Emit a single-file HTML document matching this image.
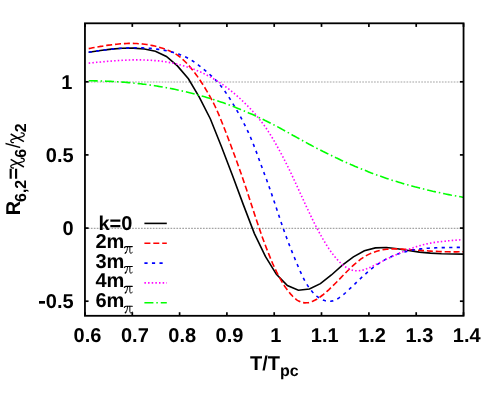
<!DOCTYPE html>
<html><head><meta charset="utf-8"><title>chart</title>
<style>
html,body{margin:0;padding:0;background:#fff;}
body{width:498px;height:399px;overflow:hidden;}
svg{display:block;will-change:transform;opacity:0.999;}
text{font-family:"Liberation Sans",sans-serif;font-weight:bold;fill:#000;text-rendering:geometricPrecision;}
.sym{font-family:"Liberation Serif",serif;font-weight:normal;}
.thin{font-weight:normal;}
</style></head><body>
<svg width="498" height="399" viewBox="0 0 498 399">
<rect width="498" height="399" fill="#fff"/>

<line x1="84.95" x2="463.5" y1="228.45" y2="228.45" stroke="#a4a4a4" stroke-width="1.2" stroke-dasharray="1.7 1.25"/>
<line x1="84.95" x2="463.5" y1="82.0" y2="82.0" stroke="#a4a4a4" stroke-width="1.2" stroke-dasharray="1.7 1.25"/>
<path d="M88.7,52.3 L100.4,50.5 L111.4,49.1 L122.4,48.2 L133.4,48.1 L144.4,49.0 L155.4,51.3 L166.4,56.4 L177.4,65.9 L188.4,78.8 L199.4,97.4 L210.4,119.0 L221.4,146.5 L232.4,175.2 L243.4,204.9 L254.4,233.6 L265.4,256.4 L276.4,274.3 L287.4,285.6 L298.4,290.3 L309.4,289.0 L320.4,283.6 L331.4,275.0 L342.4,265.1 L353.4,256.8 L364.4,250.8 L375.4,247.9 L386.4,247.5 L397.4,248.7 L408.4,250.5 L419.4,252.1 L430.4,253.1 L441.4,253.7 L452.4,254.0 L463.5,254.1" fill="none" stroke="#000000" stroke-width="1.6"/>
<path d="M88.7,48.6 L90.7,48.2 L92.7,47.8 L94.7,47.5 L96.7,47.1 L98.7,46.7 L100.7,46.4 L102.7,46.1 L104.7,45.7 L106.7,45.4 L108.7,45.1 L110.7,44.9 L112.7,44.6 L114.7,44.4 L116.7,44.2 L118.7,44.0 L120.7,43.8 L122.7,43.7 L124.7,43.6 L126.7,43.5 L128.7,43.4 L130.7,43.4 L132.7,43.4 L134.7,43.5 L136.7,43.5 L138.7,43.7 L140.7,43.8 L142.7,44.0 L144.7,44.2 L146.7,44.5 L148.7,44.8 L150.7,45.2 L152.7,45.6 L154.7,46.0 L156.7,46.5 L158.7,47.1 L160.7,47.7 L162.7,48.3 L164.7,49.0 L166.7,49.8 L168.7,50.6 L170.7,51.4 L172.7,52.4 L174.7,53.4 L176.7,54.6 L178.7,56.0 L180.7,57.5 L182.7,59.3 L184.7,61.2 L186.7,63.2 L188.7,65.4 L190.7,67.7 L192.7,70.2 L194.7,72.8 L196.7,75.4 L198.7,78.3 L200.7,81.2 L202.7,84.3 L204.7,87.5 L206.7,90.8 L208.7,94.2 L210.7,97.8 L212.7,101.6 L214.7,105.5 L216.7,109.8 L218.7,114.4 L220.7,119.2 L222.7,124.2 L224.7,129.3 L226.7,134.5 L228.7,139.7 L230.7,145.0 L232.7,150.4 L234.7,155.8 L236.7,161.2 L238.7,166.8 L240.7,172.4 L242.7,178.2 L244.7,184.1 L246.7,190.1 L248.7,196.2 L250.7,202.4 L252.7,208.6 L254.7,214.7 L256.7,220.8 L258.7,226.7 L260.7,232.6 L262.7,238.2 L264.7,243.6 L266.7,248.9 L268.7,253.9 L270.7,258.9 L272.7,263.6 L274.7,268.0 L276.7,272.2 L278.7,276.0 L280.7,279.7 L282.7,283.1 L284.7,286.2 L286.7,289.1 L288.7,291.7 L290.7,294.1 L292.7,296.3 L294.7,298.2 L296.7,299.8 L298.7,301.1 L300.7,302.0 L302.7,302.6 L304.7,302.9 L306.7,302.8 L308.7,302.6 L310.7,302.0 L312.7,301.3 L314.7,300.3 L316.7,299.2 L318.7,297.9 L320.7,296.5 L322.7,295.0 L324.7,293.4 L326.7,291.6 L328.7,289.8 L330.7,287.9 L332.7,286.0 L334.7,284.0 L336.7,282.0 L338.7,279.9 L340.7,277.9 L342.7,275.8 L344.7,273.8 L346.7,271.7 L348.7,269.8 L350.7,267.8 L352.7,265.9 L354.7,264.1 L356.7,262.4 L358.7,260.8 L360.7,259.2 L362.7,257.8 L364.7,256.6 L366.7,255.4 L368.7,254.4 L370.7,253.4 L372.7,252.6 L374.7,251.9 L376.7,251.2 L378.7,250.7 L380.7,250.2 L382.7,249.8 L384.7,249.5 L386.7,249.3 L388.7,249.1 L390.7,248.9 L392.7,248.9 L394.7,248.8 L396.7,248.9 L398.7,248.9 L400.7,249.0 L402.7,249.1 L404.7,249.2 L406.7,249.4 L408.7,249.5 L410.7,249.7 L412.7,249.8 L414.7,250.0 L416.7,250.1 L418.7,250.3 L420.7,250.4 L422.7,250.6 L424.7,250.7 L426.7,250.8 L428.7,251.0 L430.7,251.1 L432.7,251.2 L434.7,251.3 L436.7,251.4 L438.7,251.5 L440.7,251.6 L442.7,251.7 L444.7,251.7 L446.7,251.8 L448.7,251.8 L450.7,251.9 L452.7,251.9 L454.7,251.9 L456.7,251.9 L458.7,251.8 L460.7,251.8 L462.7,251.7 L463.5,251.7" fill="none" stroke="#ff0000" stroke-width="1.6" stroke-dasharray="6 2.9"/>
<path d="M88.7,52.3 L90.7,52.0 L92.7,51.7 L94.7,51.4 L96.7,51.1 L98.7,50.8 L100.7,50.5 L102.7,50.2 L104.7,50.0 L106.7,49.7 L108.7,49.5 L110.7,49.3 L112.7,49.0 L114.7,48.8 L116.7,48.7 L118.7,48.5 L120.7,48.3 L122.7,48.2 L124.7,48.1 L126.7,48.0 L128.7,47.9 L130.7,47.8 L132.7,47.8 L134.7,47.8 L136.7,47.8 L138.7,47.8 L140.7,47.8 L142.7,47.9 L144.7,48.0 L146.7,48.1 L148.7,48.2 L150.7,48.4 L152.7,48.6 L154.7,48.8 L156.7,49.1 L158.7,49.4 L160.7,49.7 L162.7,50.0 L164.7,50.4 L166.7,50.8 L168.7,51.3 L170.7,51.8 L172.7,52.3 L174.7,52.8 L176.7,53.5 L178.7,54.1 L180.7,54.9 L182.7,55.7 L184.7,56.6 L186.7,57.5 L188.7,58.6 L190.7,59.7 L192.7,61.0 L194.7,62.3 L196.7,63.8 L198.7,65.3 L200.7,66.8 L202.7,68.4 L204.7,70.1 L206.7,71.8 L208.7,73.5 L210.7,75.3 L212.7,77.1 L214.7,79.0 L216.7,81.1 L218.7,83.3 L220.7,85.7 L222.7,88.3 L224.7,91.0 L226.7,93.9 L228.7,96.9 L230.7,100.1 L232.7,103.3 L234.7,106.7 L236.7,110.1 L238.7,113.6 L240.7,117.2 L242.7,121.0 L244.7,124.9 L246.7,128.9 L248.7,133.2 L250.7,137.7 L252.7,142.5 L254.7,147.6 L256.7,152.9 L258.7,158.4 L260.7,163.9 L262.7,169.4 L264.7,174.7 L266.7,180.0 L268.7,185.6 L270.7,191.3 L272.7,197.2 L274.7,203.1 L276.7,209.1 L278.7,215.1 L280.7,221.0 L282.7,226.9 L284.7,232.6 L286.7,238.1 L288.7,243.4 L290.7,248.5 L292.7,253.5 L294.7,258.3 L296.7,263.1 L298.7,267.9 L300.7,272.4 L302.7,276.7 L304.7,280.6 L306.7,284.1 L308.7,287.2 L310.7,289.9 L312.7,292.3 L314.7,294.4 L316.7,296.1 L318.7,297.6 L320.7,298.9 L322.7,299.9 L324.7,300.6 L326.7,301.1 L328.7,301.3 L330.7,301.3 L332.7,300.9 L334.7,300.2 L336.7,299.3 L338.7,298.1 L340.7,296.7 L342.7,295.2 L344.7,293.5 L346.7,291.7 L348.7,289.8 L350.7,287.9 L352.7,286.0 L354.7,284.1 L356.7,282.1 L358.7,280.2 L360.7,278.3 L362.7,276.5 L364.7,274.7 L366.7,272.9 L368.7,271.2 L370.7,269.5 L372.7,267.9 L374.7,266.4 L376.7,264.9 L378.7,263.6 L380.7,262.3 L382.7,261.1 L384.7,259.9 L386.7,258.9 L388.7,257.9 L390.7,256.9 L392.7,256.0 L394.7,255.2 L396.7,254.5 L398.7,253.7 L400.7,253.1 L402.7,252.5 L404.7,251.9 L406.7,251.4 L408.7,250.9 L410.7,250.5 L412.7,250.1 L414.7,249.8 L416.7,249.5 L418.7,249.2 L420.7,248.9 L422.7,248.7 L424.7,248.5 L426.7,248.3 L428.7,248.2 L430.7,248.1 L432.7,248.0 L434.7,247.9 L436.7,247.8 L438.7,247.7 L440.7,247.7 L442.7,247.6 L444.7,247.6 L446.7,247.6 L448.7,247.5 L450.7,247.5 L452.7,247.5 L454.7,247.4 L456.7,247.4 L458.7,247.4 L460.7,247.3 L462.7,247.2 L463.5,247.2" fill="none" stroke="#0000ff" stroke-width="1.6" stroke-dasharray="3.2 4.331"/>
<path d="M88.7,63.1 L90.7,62.9 L92.7,62.7 L94.7,62.5 L96.7,62.3 L98.7,62.2 L100.7,62.0 L102.7,61.8 L104.7,61.6 L106.7,61.4 L108.7,61.3 L110.7,61.1 L112.7,60.9 L114.7,60.8 L116.7,60.7 L118.7,60.5 L120.7,60.4 L122.7,60.3 L124.7,60.2 L126.7,60.1 L128.7,60.0 L130.7,60.0 L132.7,59.9 L134.7,59.9 L136.7,59.9 L138.7,59.9 L140.7,59.9 L142.7,59.9 L144.7,60.0 L146.7,60.1 L148.7,60.2 L150.7,60.3 L152.7,60.4 L154.7,60.6 L156.7,60.7 L158.7,60.9 L160.7,61.2 L162.7,61.4 L164.7,61.7 L166.7,62.0 L168.7,62.4 L170.7,62.7 L172.7,63.1 L174.7,63.5 L176.7,64.0 L178.7,64.5 L180.7,65.0 L182.7,65.6 L184.7,66.1 L186.7,66.8 L188.7,67.4 L190.7,68.1 L192.7,68.8 L194.7,69.6 L196.7,70.4 L198.7,71.2 L200.7,72.1 L202.7,73.0 L204.7,74.0 L206.7,75.0 L208.7,76.1 L210.7,77.1 L212.7,78.3 L214.7,79.5 L216.7,80.7 L218.7,82.0 L220.7,83.3 L222.7,84.6 L224.7,86.1 L226.7,87.5 L228.7,89.0 L230.7,90.6 L232.7,92.2 L234.7,93.9 L236.7,95.6 L238.7,97.4 L240.7,99.2 L242.7,101.1 L244.7,103.0 L246.7,105.0 L248.7,107.0 L250.7,109.1 L252.7,111.3 L254.7,113.5 L256.7,115.9 L258.7,118.3 L260.7,120.8 L262.7,123.4 L264.7,126.1 L266.7,129.0 L268.7,132.1 L270.7,135.2 L272.7,138.5 L274.7,141.9 L276.7,145.5 L278.7,149.1 L280.7,152.8 L282.7,156.5 L284.7,160.4 L286.7,164.4 L288.7,168.4 L290.7,172.6 L292.7,176.8 L294.7,181.1 L296.7,185.4 L298.7,189.8 L300.7,194.2 L302.7,198.6 L304.7,202.9 L306.7,207.3 L308.7,211.5 L310.7,215.7 L312.7,219.8 L314.7,223.8 L316.7,227.7 L318.7,231.5 L320.7,235.1 L322.7,238.7 L324.7,242.0 L326.7,245.3 L328.7,248.4 L330.7,251.3 L332.7,254.0 L334.7,256.6 L336.7,259.0 L338.7,261.1 L340.7,263.1 L342.7,264.9 L344.7,266.4 L346.7,267.7 L348.7,268.8 L350.7,269.6 L352.7,270.3 L354.7,270.7 L356.7,270.8 L358.7,270.8 L360.7,270.5 L362.7,270.1 L364.7,269.5 L366.7,268.8 L368.7,268.0 L370.7,267.1 L372.7,266.2 L374.7,265.2 L376.7,264.1 L378.7,263.1 L380.7,262.1 L382.7,261.1 L384.7,260.1 L386.7,259.1 L388.7,258.2 L390.7,257.2 L392.7,256.2 L394.7,255.3 L396.7,254.4 L398.7,253.5 L400.7,252.6 L402.7,251.8 L404.7,250.9 L406.7,250.1 L408.7,249.4 L410.7,248.6 L412.7,247.9 L414.7,247.2 L416.7,246.6 L418.7,246.0 L420.7,245.4 L422.7,244.8 L424.7,244.4 L426.7,243.9 L428.7,243.5 L430.7,243.1 L432.7,242.8 L434.7,242.4 L436.7,242.1 L438.7,241.9 L440.7,241.6 L442.7,241.4 L444.7,241.2 L446.7,241.0 L448.7,240.8 L450.7,240.6 L452.7,240.4 L454.7,240.3 L456.7,240.1 L458.7,240.0 L460.7,239.8 L462.2,239.7" fill="none" stroke="#ff00ff" stroke-width="1.6" stroke-dasharray="1.5 2.15"/>
<path d="M88.7,80.8 L90.7,80.8 L92.7,80.8 L94.7,80.9 L96.7,80.9 L98.7,80.9 L100.7,81.0 L102.7,81.0 L104.7,81.1 L106.7,81.2 L108.7,81.3 L110.7,81.4 L112.7,81.5 L114.7,81.6 L116.7,81.7 L118.7,81.8 L120.7,82.0 L122.7,82.1 L124.7,82.3 L126.7,82.4 L128.7,82.6 L130.7,82.8 L132.7,83.0 L134.7,83.2 L136.7,83.4 L138.7,83.6 L140.7,83.8 L142.7,84.1 L144.7,84.3 L146.7,84.6 L148.7,84.9 L150.7,85.1 L152.7,85.4 L154.7,85.7 L156.7,86.0 L158.7,86.4 L160.7,86.7 L162.7,87.0 L164.7,87.4 L166.7,87.8 L168.7,88.1 L170.7,88.5 L172.7,88.9 L174.7,89.3 L176.7,89.7 L178.7,90.2 L180.7,90.6 L182.7,91.1 L184.7,91.5 L186.7,92.0 L188.7,92.5 L190.7,93.0 L192.7,93.5 L194.7,94.0 L196.7,94.6 L198.7,95.1 L200.7,95.7 L202.7,96.2 L204.7,96.8 L206.7,97.4 L208.7,98.0 L210.7,98.6 L212.7,99.3 L214.7,99.9 L216.7,100.6 L218.7,101.3 L220.7,101.9 L222.7,102.6 L224.7,103.3 L226.7,104.1 L228.7,104.8 L230.7,105.6 L232.7,106.3 L234.7,107.1 L236.7,107.9 L238.7,108.7 L240.7,109.5 L242.7,110.3 L244.7,111.2 L246.7,112.0 L248.7,112.9 L250.7,113.7 L252.7,114.6 L254.7,115.5 L256.7,116.5 L258.7,117.4 L260.7,118.3 L262.7,119.3 L264.7,120.3 L266.7,121.2 L268.7,122.2 L270.7,123.3 L272.7,124.3 L274.7,125.3 L276.7,126.4 L278.7,127.4 L280.7,128.5 L282.7,129.6 L284.7,130.7 L286.7,131.8 L288.7,132.9 L290.7,134.0 L292.7,135.2 L294.7,136.3 L296.7,137.4 L298.7,138.5 L300.7,139.6 L302.7,140.7 L304.7,141.8 L306.7,142.9 L308.7,144.0 L310.7,145.0 L312.7,146.1 L314.7,147.1 L316.7,148.2 L318.7,149.2 L320.7,150.2 L322.7,151.3 L324.7,152.3 L326.7,153.3 L328.7,154.2 L330.7,155.2 L332.7,156.2 L334.7,157.1 L336.7,158.1 L338.7,159.0 L340.7,160.0 L342.7,160.9 L344.7,161.8 L346.7,162.7 L348.7,163.6 L350.7,164.5 L352.7,165.3 L354.7,166.2 L356.7,167.0 L358.7,167.9 L360.7,168.7 L362.7,169.5 L364.7,170.3 L366.7,171.1 L368.7,171.9 L370.7,172.7 L372.7,173.4 L374.7,174.2 L376.7,174.9 L378.7,175.6 L380.7,176.3 L382.7,177.0 L384.7,177.7 L386.7,178.4 L388.7,179.1 L390.7,179.7 L392.7,180.4 L394.7,181.0 L396.7,181.6 L398.7,182.2 L400.7,182.8 L402.7,183.4 L404.7,184.0 L406.7,184.6 L408.7,185.1 L410.7,185.7 L412.7,186.2 L414.7,186.8 L416.7,187.3 L418.7,187.8 L420.7,188.3 L422.7,188.8 L424.7,189.3 L426.7,189.8 L428.7,190.3 L430.7,190.7 L432.7,191.2 L434.7,191.6 L436.7,192.1 L438.7,192.5 L440.7,192.9 L442.7,193.3 L444.7,193.8 L446.7,194.2 L448.7,194.6 L450.7,195.0 L452.7,195.3 L454.7,195.7 L456.7,196.1 L458.7,196.4 L460.7,196.8 L462.7,197.2 L463.5,197.3" fill="none" stroke="#00ff00" stroke-width="1.6" stroke-dasharray="9 2.92 1.5 2.92"/>
<line x1="85.0" x2="85.0" y1="315.8" y2="312.2" stroke="#000" stroke-width="1.7"/>
<line x1="85.0" x2="85.0" y1="23.3" y2="26.900000000000002" stroke="#000" stroke-width="1.7"/>
<line x1="132.3" x2="132.3" y1="315.8" y2="312.2" stroke="#000" stroke-width="1.7"/>
<line x1="132.3" x2="132.3" y1="23.3" y2="26.900000000000002" stroke="#000" stroke-width="1.7"/>
<line x1="179.6" x2="179.6" y1="315.8" y2="312.2" stroke="#000" stroke-width="1.7"/>
<line x1="179.6" x2="179.6" y1="23.3" y2="26.900000000000002" stroke="#000" stroke-width="1.7"/>
<line x1="226.9" x2="226.9" y1="315.8" y2="312.2" stroke="#000" stroke-width="1.7"/>
<line x1="226.9" x2="226.9" y1="23.3" y2="26.900000000000002" stroke="#000" stroke-width="1.7"/>
<line x1="274.2" x2="274.2" y1="315.8" y2="312.2" stroke="#000" stroke-width="1.7"/>
<line x1="274.2" x2="274.2" y1="23.3" y2="26.900000000000002" stroke="#000" stroke-width="1.7"/>
<line x1="321.5" x2="321.5" y1="315.8" y2="312.2" stroke="#000" stroke-width="1.7"/>
<line x1="321.5" x2="321.5" y1="23.3" y2="26.900000000000002" stroke="#000" stroke-width="1.7"/>
<line x1="368.9" x2="368.9" y1="315.8" y2="312.2" stroke="#000" stroke-width="1.7"/>
<line x1="368.9" x2="368.9" y1="23.3" y2="26.900000000000002" stroke="#000" stroke-width="1.7"/>
<line x1="416.2" x2="416.2" y1="315.8" y2="312.2" stroke="#000" stroke-width="1.7"/>
<line x1="416.2" x2="416.2" y1="23.3" y2="26.900000000000002" stroke="#000" stroke-width="1.7"/>
<line x1="463.5" x2="463.5" y1="315.8" y2="312.2" stroke="#000" stroke-width="1.7"/>
<line x1="463.5" x2="463.5" y1="23.3" y2="26.900000000000002" stroke="#000" stroke-width="1.7"/>
<line x1="84.95" x2="88.55" y1="301.2" y2="301.2" stroke="#000" stroke-width="1.7"/>
<line x1="463.5" x2="459.9" y1="301.2" y2="301.2" stroke="#000" stroke-width="1.7"/>
<line x1="84.95" x2="88.55" y1="228.1" y2="228.1" stroke="#000" stroke-width="1.7"/>
<line x1="463.5" x2="459.9" y1="228.1" y2="228.1" stroke="#000" stroke-width="1.7"/>
<line x1="84.95" x2="88.55" y1="154.9" y2="154.9" stroke="#000" stroke-width="1.7"/>
<line x1="463.5" x2="459.9" y1="154.9" y2="154.9" stroke="#000" stroke-width="1.7"/>
<line x1="84.95" x2="88.55" y1="81.8" y2="81.8" stroke="#000" stroke-width="1.7"/>
<line x1="463.5" x2="459.9" y1="81.8" y2="81.8" stroke="#000" stroke-width="1.7"/>
<rect x="84.95" y="23.3" width="378.6" height="292.5" fill="none" stroke="#000" stroke-width="1.8"/>
<text x="87.5" y="341.5" font-size="20" text-anchor="middle">0.6</text>
<text x="134.9" y="341.5" font-size="20" text-anchor="middle">0.7</text>
<text x="182.2" y="341.5" font-size="20" text-anchor="middle">0.8</text>
<text x="229.5" y="341.5" font-size="20" text-anchor="middle">0.9</text>
<text x="275.8" y="341.5" font-size="20" text-anchor="middle">1</text>
<text x="324.7" y="341.5" font-size="20" text-anchor="middle">1.1</text>
<text x="372.1" y="341.5" font-size="20" text-anchor="middle">1.2</text>
<text x="419.4" y="341.5" font-size="20" text-anchor="middle">1.3</text>
<text x="466.7" y="341.5" font-size="20" text-anchor="middle">1.4</text>
<text x="73.6" y="307.9" font-size="20" text-anchor="end">0.5</text>
<rect x="39.0" y="301.0" width="6.0" height="2.7" fill="#000"/>
<text x="73.6" y="234.8" font-size="20" text-anchor="end">0</text>
<text x="73.6" y="161.6" font-size="20" text-anchor="end">0.5</text>
<text x="72.39999999999999" y="88.5" font-size="20" text-anchor="end">1</text>
<text x="250" y="370" font-size="20">T/T<tspan dy="5.8" font-size="16.0">pc</tspan></text>
<g transform="translate(19.8,215.3) rotate(-90)">
<text x="0.0" y="0" font-size="20">R</text>
<text x="13.3" y="6.1" font-size="16">6,2</text>
<text x="35.7" y="0" font-size="20">=</text>
<text x="57.6" y="6.1" font-size="16">6</text>
<text x="67.0" y="0" font-size="20" class="thin">/</text>
<text x="83.1" y="6.1" font-size="16">2</text>
</g>
<g transform="translate(0,0)" fill="none" stroke="#000"><path d="M10.7,134.0 L23.9,141.6" stroke-width="1.45"/><path d="M21.3,132.85 C22.7,132.6 24.3,133.4 24.3,134.8 C24.3,135.9 23.5,136.2 22.2,136.6 L13.0,139.15 C11.6,139.55 10.7,139.9 10.75,140.8 C10.8,141.9 12.0,142.8 13.4,142.6" stroke-width="1.3" stroke-linecap="round"/></g>
<g transform="translate(0,25.4)" fill="none" stroke="#000"><path d="M10.7,134.0 L23.9,141.6" stroke-width="1.45"/><path d="M21.3,132.85 C22.7,132.6 24.3,133.4 24.3,134.8 C24.3,135.9 23.5,136.2 22.2,136.6 L13.0,139.15 C11.6,139.55 10.7,139.9 10.75,140.8 C10.8,141.9 12.0,142.8 13.4,142.6" stroke-width="1.3" stroke-linecap="round"/></g>
<line x1="144.4" x2="166.8" y1="223.4" y2="223.4" stroke="#000000" stroke-width="1.6"/>
<text x="132.4" y="230" font-size="20" text-anchor="end">k=0</text>
<line x1="144.4" x2="166.8" y1="243.2" y2="243.2" stroke="#ff0000" stroke-width="1.6" stroke-dasharray="6 2.9"/>
<text x="124.3" y="248" font-size="20" text-anchor="end">2m</text>
<g transform="translate(124.0,253.6)" fill="none" stroke="#000" stroke-linecap="round" stroke-linejoin="round"><path d="M0.35,-5.9 C0.8,-6.9 1.3,-7.05 2.2,-7.05 L8.3,-7.05" stroke-width="1.15"/><path d="M3.55,-7.0 C3.45,-4.6 3.1,-2.0 1.5,-0.6" stroke-width="0.95"/><path d="M1.9,-1.2 L1.3,-0.5" stroke-width="1.4"/><path d="M5.85,-7.0 L5.85,-1.7 C5.85,-0.2 7.0,0.1 8.3,-1.1" stroke-width="1.0"/></g>
<line x1="144.4" x2="166.8" y1="263.1" y2="263.1" stroke="#0000ff" stroke-width="1.6" stroke-dasharray="3.2 4.331"/>
<text x="124.3" y="268" font-size="20" text-anchor="end">3m</text>
<g transform="translate(124.0,273.5)" fill="none" stroke="#000" stroke-linecap="round" stroke-linejoin="round"><path d="M0.35,-5.9 C0.8,-6.9 1.3,-7.05 2.2,-7.05 L8.3,-7.05" stroke-width="1.15"/><path d="M3.55,-7.0 C3.45,-4.6 3.1,-2.0 1.5,-0.6" stroke-width="0.95"/><path d="M1.9,-1.2 L1.3,-0.5" stroke-width="1.4"/><path d="M5.85,-7.0 L5.85,-1.7 C5.85,-0.2 7.0,0.1 8.3,-1.1" stroke-width="1.0"/></g>
<line x1="144.4" x2="166.8" y1="282.9" y2="282.9" stroke="#ff00ff" stroke-width="1.6" stroke-dasharray="1.5 2.15"/>
<text x="124.3" y="287" font-size="20" text-anchor="end">4m</text>
<g transform="translate(124.0,293.4)" fill="none" stroke="#000" stroke-linecap="round" stroke-linejoin="round"><path d="M0.35,-5.9 C0.8,-6.9 1.3,-7.05 2.2,-7.05 L8.3,-7.05" stroke-width="1.15"/><path d="M3.55,-7.0 C3.45,-4.6 3.1,-2.0 1.5,-0.6" stroke-width="0.95"/><path d="M1.9,-1.2 L1.3,-0.5" stroke-width="1.4"/><path d="M5.85,-7.0 L5.85,-1.7 C5.85,-0.2 7.0,0.1 8.3,-1.1" stroke-width="1.0"/></g>
<line x1="144.4" x2="166.8" y1="302.7" y2="302.7" stroke="#00ff00" stroke-width="1.6" stroke-dasharray="9 2.92 1.5 2.92"/>
<text x="124.3" y="307" font-size="20" text-anchor="end">6m</text>
<g transform="translate(124.0,313.3)" fill="none" stroke="#000" stroke-linecap="round" stroke-linejoin="round"><path d="M0.35,-5.9 C0.8,-6.9 1.3,-7.05 2.2,-7.05 L8.3,-7.05" stroke-width="1.15"/><path d="M3.55,-7.0 C3.45,-4.6 3.1,-2.0 1.5,-0.6" stroke-width="0.95"/><path d="M1.9,-1.2 L1.3,-0.5" stroke-width="1.4"/><path d="M5.85,-7.0 L5.85,-1.7 C5.85,-0.2 7.0,0.1 8.3,-1.1" stroke-width="1.0"/></g>
</svg>
</body></html>
